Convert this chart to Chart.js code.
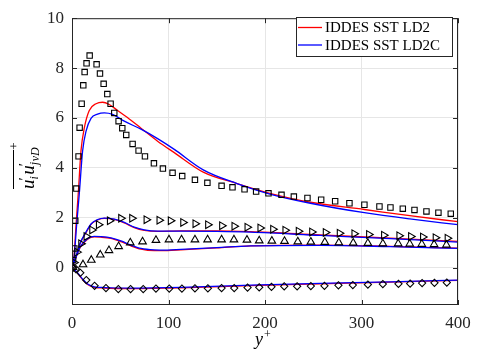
<!DOCTYPE html>
<html>
<head>
<meta charset="utf-8">
<script src="https://cdn.jsdelivr.net/npm/chart.js@4.4.0/dist/chart.umd.min.js"></script>
<style>html,body{margin:0;padding:0;background:#fff}</style>
</head>
<body>
<canvas id="chart" width="484" height="359"></canvas>
<script>
const xTicks = [0, 100, 200, 300, 400];
const yTicks = [0, 2, 4, 6, 8, 10];

// reference points (markers)
const uuRefX = [1.2, 2.4, 3.4, 4.5, 6.8, 7.9, 10, 11.7, 13.1, 15.1, 18.3, 25.5, 29, 32.8, 36.6, 40, 43.8, 48.3, 52.1, 56.2, 62.8, 69, 75.6, 84.9, 94.2, 104.2, 114.2, 127.4, 140.3, 155, 166.3, 178.8, 190.8, 203.6, 217.1, 229.9, 244, 258.2, 272.7, 287.5, 303, 318.6, 330, 342.8, 354.9, 367.3, 379.7, 392.5];
const uuRefY = [0.3, 0.77, 1.88, 3.17, 4.46, 5.61, 6.57, 7.31, 7.84, 8.19, 8.50, 8.15, 7.78, 7.37, 6.96, 6.57, 6.20, 5.87, 5.59, 5.32, 4.96, 4.69, 4.46, 4.18, 3.97, 3.80, 3.67, 3.52, 3.40, 3.28, 3.22, 3.14, 3.05, 2.98, 2.92, 2.85, 2.79, 2.72, 2.66, 2.58, 2.52, 2.45, 2.41, 2.36, 2.31, 2.25, 2.20, 2.16];

const wwRefX = [2, 5.2, 9.3, 14.8, 20.7, 27.6, 39, 50.7, 62.1, 77, 90.4, 102.1, 115, 127.7, 140.8, 155.3, 168.1, 181.6, 195, 208.2, 220.9, 234.7, 248.6, 262.7, 277.2, 292.4, 307.6, 323.1, 339, 351.1, 363.5, 376.6, 389];
const wwRefY = [0.2, 0.62, 0.96, 1.25, 1.51, 1.72, 1.88, 1.98, 1.98, 1.92, 1.90, 1.88, 1.81, 1.76, 1.72, 1.68, 1.66, 1.62, 1.59, 1.54, 1.50, 1.46, 1.43, 1.41, 1.38, 1.36, 1.33, 1.30, 1.28, 1.25, 1.23, 1.20, 1.18];

const vvRefX = [1, 11.4, 20, 29.3, 38.3, 48.3, 60.4, 73.1, 87, 100.5, 113.5, 127.4, 140.5, 155, 167.8, 181.3, 194, 207.1, 220.2, 234, 247.5, 262, 276.5, 291.4, 306.6, 322.1, 338, 350, 362.5, 375.2, 388];
const vvRefY = [0.01, 0.12, 0.30, 0.51, 0.69, 0.85, 1.00, 1.04, 1.10, 1.12, 1.12, 1.12, 1.12, 1.12, 1.12, 1.11, 1.08, 1.07, 1.06, 1.04, 1.03, 1.02, 1.00, 0.99, 0.98, 0.96, 0.96, 0.95, 0.94, 0.93, 0.91];

const uvRefX = [1, 4, 8.6, 14.8, 23.4, 35.2, 48, 60.7, 73.8, 87, 100.8, 113.9, 127.4, 140.8, 155, 168.1, 181.9, 194, 206.7, 219.9, 233.3, 247.5, 261.6, 276.1, 291, 306.6, 322.1, 338.3, 350.4, 362.8, 375.6, 388.4];
const uvRefY = [-0.01, -0.06, -0.21, -0.50, -0.73, -0.82, -0.86, -0.86, -0.86, -0.84, -0.84, -0.84, -0.83, -0.83, -0.82, -0.82, -0.80, -0.79, -0.77, -0.75, -0.75, -0.74, -0.73, -0.71, -0.70, -0.68, -0.66, -0.65, -0.64, -0.62, -0.61, -0.60];

// IDDES SST LD2 / LD2C curves
const uuLd2X = [0, 2, 4.5, 6.5, 9.3, 12.7, 17.9, 24.9, 31.7, 38.6, 47.2, 61.1, 71.5, 88.7, 106, 136, 171, 205, 247, 303, 350, 400];
const uuLd2Y = [0, 0.4, 1.9, 2.98, 4.68, 5.59, 6.30, 6.57, 6.63, 6.54, 6.30, 5.91, 5.59, 5.07, 4.61, 3.83, 3.37, 2.98, 2.62, 2.33, 2.08, 1.84];
const uuLd2cX = [0, 2, 5, 7.6, 11, 14.5, 19.7, 26.5, 33.5, 42.1, 54.2, 71.5, 88.7, 106, 136, 171, 205, 247, 303, 350, 400];
const uuLd2cY = [0, 0.35, 1.8, 2.98, 4.68, 5.46, 5.98, 6.15, 6.20, 6.14, 5.87, 5.55, 5.17, 4.74, 3.92, 3.37, 2.95, 2.58, 2.20, 1.95, 1.72];

const wwLineX = [0, 3, 8.6, 14.5, 19.7, 26.5, 33.5, 43.8, 54.2, 64.5, 74.9, 88.7, 112.9, 150, 185, 257, 330, 400];
const wwLd2Y = [0, 0.3, 0.98, 1.40, 1.73, 1.91, 1.97, 1.93, 1.79, 1.60, 1.49, 1.45, 1.47, 1.47, 1.44, 1.31, 1.18, 1.05];
const wwLd2cY = [0, 0.3, 1.0, 1.42, 1.75, 1.92, 1.98, 1.94, 1.81, 1.62, 1.51, 1.46, 1.46, 1.45, 1.42, 1.29, 1.16, 1.02];

const vvLineX = [0, 3, 8.6, 16.2, 23.1, 30, 40.4, 50.7, 61.1, 71.5, 85.2, 99, 112.9, 150, 185, 257, 330, 400];
const vvLd2Y = [0, 0.3, 0.82, 1.14, 1.23, 1.22, 1.17, 1.04, 0.87, 0.74, 0.68, 0.68, 0.71, 0.79, 0.87, 0.90, 0.85, 0.78];
const vvLd2cY = [0, 0.3, 0.84, 1.16, 1.25, 1.24, 1.19, 1.07, 0.90, 0.77, 0.71, 0.70, 0.73, 0.80, 0.87, 0.89, 0.84, 0.77];

const uvLineX = [0, 5.8, 11, 16.2, 23.1, 33.5, 61.1, 112.9, 185, 257, 330, 400];
const uvLd2Y = [0, -0.22, -0.48, -0.68, -0.79, -0.82, -0.84, -0.81, -0.72, -0.65, -0.58, -0.51];
const uvLd2cY = [0, -0.21, -0.46, -0.66, -0.77, -0.80, -0.82, -0.79, -0.70, -0.63, -0.57, -0.50];

const legendLabels = ["IDDES SST LD2", "IDDES SST LD2C"];
const RED = "#ff0000", BLUE = "#0000ff", INK = "#262626";
const SERIF = "Liberation Serif";

Chart.defaults.font.family = SERIF;

const pts = (xs, ys) => xs.map((x, i) => ({ x: x, y: ys[i] }));

const line = (label, xs, ys, color, order) => ({
  label: label, data: pts(xs, ys), showLine: true,
  borderColor: color, borderWidth: 1.3, pointRadius: 0,
  cubicInterpolationMode: "monotone", order: order
});

const marks = (xs, ys, style, radius, rotation) => ({
  label: "ref", data: pts(xs, ys), showLine: false,
  pointStyle: style, pointRadius: radius, pointRotation: rotation || 0,
  pointBorderColor: "#000", pointBackgroundColor: "rgba(0,0,0,0)",
  pointBorderWidth: 1.1, order: 0
});

const datasets = [
  line(legendLabels[0], uuLd2X, uuLd2Y, RED, 2),
  line(legendLabels[0], wwLineX, wwLd2Y, RED, 2),
  line(legendLabels[0], vvLineX, vvLd2Y, RED, 2),
  line(legendLabels[0], uvLineX, uvLd2Y, RED, 2),
  line(legendLabels[1], uuLd2cX, uuLd2cY, BLUE, 1),
  line(legendLabels[1], wwLineX, wwLd2cY, BLUE, 1),
  line(legendLabels[1], vvLineX, vvLd2cY, BLUE, 1),
  line(legendLabels[1], uvLineX, uvLd2cY, BLUE, 1),
  marks(uuRefX, uuRefY, "rect", 3.8),
  marks(wwRefX, wwRefY, "triangle", 4.4, 90),
  marks(vvRefX, vvRefY, "triangle", 4.4),
  marks(uvRefX, uvRefY, "rectRot", 3.6)
];

const tickFont = { family: SERIF, size: 17 };

// box, inner ticks, legend and axis titles
const frame = {
  id: "frame",
  afterDraw(chart) {
    const c = chart.ctx, a = chart.chartArea;
    const xs = chart.scales.x, ys = chart.scales.y;
    c.save();
    c.strokeStyle = INK;
    c.lineWidth = 1;
    c.strokeRect(a.left + 0.5, a.top + 0.5, a.right - a.left - 1, a.bottom - a.top - 1);
    c.beginPath();
    xTicks.forEach(v => {
      const p = Math.round(xs.getPixelForValue(v)) + 0.5;
      c.moveTo(p, a.bottom); c.lineTo(p, a.bottom - 5);
      c.moveTo(p, a.top); c.lineTo(p, a.top + 5);
    });
    yTicks.forEach(v => {
      const p = Math.round(ys.getPixelForValue(v)) + 0.5;
      c.moveTo(a.left, p); c.lineTo(a.left + 5, p);
      c.moveTo(a.right, p); c.lineTo(a.right - 5, p);
    });
    c.stroke();

    // legend
    const lx = 296, ly = 17, lw = 156, lh = 39;
    c.fillStyle = "#fff";
    c.fillRect(lx, ly, lw, lh);
    c.strokeStyle = INK;
    c.strokeRect(lx + 0.5, ly + 0.5, lw, lh);
    c.font = "15px '" + SERIF + "'";
    c.textBaseline = "middle";
    [[RED, 27.5], [BLUE, 45]].forEach(([col, y], i) => {
      c.strokeStyle = col; c.lineWidth = 1.3;
      c.beginPath(); c.moveTo(298, y); c.lineTo(322, y); c.stroke();
      c.fillStyle = "#000";
      c.fillText(legendLabels[i], 325, y + 1);
    });

    // x title
    c.fillStyle = "#000";
    c.textBaseline = "alphabetic";
    c.font = "italic 18px '" + SERIF + "'";
    c.fillText("y", 255, 345);
    c.font = "12px '" + SERIF + "'";
    c.fillText("+", 264, 338);

    // y title (rotated)
    c.translate(34, 189);
    c.rotate(-Math.PI / 2);
    const big = "italic 19px '" + SERIF + "'";
    const sub = "italic 12px '" + SERIF + "'";
    const prm = "15px '" + SERIF + "'";
    let x = 0;
    const put = (txt, font, dy) => {
      c.font = font; c.fillText(txt, x, dy);
      const w = c.measureText(txt).width; x += w; return w;
    };
    put("u", big, 0);
    c.font = prm; c.fillText("′", x - 1, -5);
    put("i", sub, 4); x += 1.5;
    put("u", big, 0);
    c.font = prm; c.fillText("′", x - 1, -5);
    put("j", sub, 4);
    const lineEnd = x + 12;
    x += 0.5;
    put("vD", sub, 5);
    c.strokeStyle = "#000"; c.lineWidth = 1;
    c.beginPath(); c.moveTo(0, -20.5); c.lineTo(lineEnd, -20.5); c.stroke();
    c.font = "13px '" + SERIF + "'";
    c.fillText("+", lineEnd, -16);
    c.restore();
  }
};

new Chart(document.getElementById("chart").getContext("2d"), {
  type: "scatter",
  data: { datasets: datasets },
  options: {
    responsive: false,
    animation: false,
    layout: { padding: { top: 11, right: 26, left: 0, bottom: 0 } },
    plugins: { legend: { display: false }, tooltip: { enabled: false } },
    scales: {
      x: {
        type: "linear", min: 0, max: 400,
        afterBuildTicks: s => { s.ticks = xTicks.map(v => ({ value: v })); },
        afterFit: s => { s.height = 54; },
        grid: { color: "#e6e6e6", drawTicks: false },
        border: { display: false },
        ticks: { font: tickFont, color: INK, padding: 8, maxRotation: 0 }
      },
      y: {
        type: "linear", min: -1.5, max: 10,
        afterBuildTicks: s => { s.ticks = yTicks.map(v => ({ value: v })); },
        afterFit: s => { s.width = 72; },
        grid: { color: "#e6e6e6", drawTicks: false },
        border: { display: false },
        ticks: { font: tickFont, color: INK, padding: 8 }
      }
    }
  },
  plugins: [frame]
});
</script>
</body>
</html>
